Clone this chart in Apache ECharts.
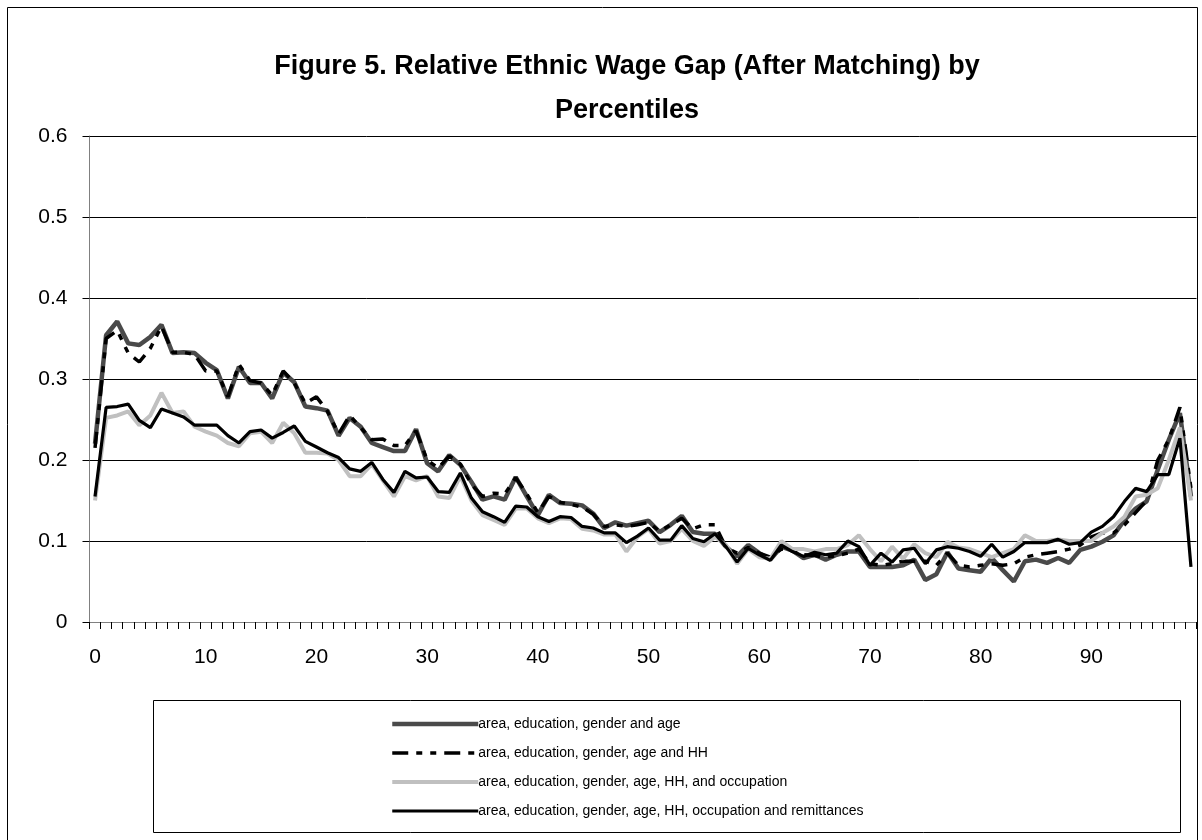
<!DOCTYPE html>
<html>
<head>
<meta charset="utf-8">
<script src="https://cdn.jsdelivr.net/npm/echarts@6/dist/echarts.min.js"></script>
<style>
  html, body { margin: 0; padding: 0; background: #fff; }
  #chart { width: 1202px; height: 840px; }
</style>
</head>
<body>
<div id="chart"></div>
<script>
// Percentile categories 0..99
const categories = Array.from({length: 100}, (_, i) => String(i));

const seriesNames = [
  'area, education, gender and age',
  'area, education, gender, age and HH',
  'area, education, gender, age, HH, and occupation',
  'area, education, gender, age, HH, occupation and remittances'
];

const yTicks = [0, 0.1, 0.2, 0.3, 0.4, 0.5, 0.6];

const s1 = [0.22,0.354,0.371,0.344,0.342,0.352,0.367,0.332,0.333,0.332,
  0.32,0.311,0.276,0.315,0.295,0.295,0.276,0.308,0.296,0.266,
  0.264,0.261,0.23,0.252,0.241,0.221,0.216,0.211,0.211,0.238,
  0.196,0.186,0.206,0.194,0.173,0.151,0.155,0.151,0.179,0.155,
  0.132,0.157,0.147,0.146,0.144,0.134,0.116,0.123,0.119,0.122,
  0.125,0.111,0.12,0.131,0.111,0.109,0.109,0.093,0.081,0.095,
  0.085,0.077,0.093,0.088,0.079,0.083,0.077,0.083,0.087,0.087,
  0.068,0.068,0.068,0.07,0.077,0.052,0.059,0.086,0.066,0.064,
  0.062,0.079,0.064,0.05,0.075,0.077,0.073,0.079,0.073,0.089,
  0.093,0.099,0.107,0.126,0.14,0.149,0.188,0.225,0.258,0.155];

const s2 = [0.215,0.35,0.36,0.332,0.321,0.338,0.365,0.333,0.333,0.33,
  0.31,0.31,0.278,0.318,0.298,0.295,0.28,0.31,0.295,0.27,
  0.278,0.26,0.232,0.255,0.24,0.225,0.226,0.218,0.218,0.236,
  0.2,0.19,0.205,0.195,0.17,0.155,0.159,0.158,0.178,0.158,
  0.135,0.155,0.148,0.145,0.142,0.133,0.118,0.12,0.118,0.12,
  0.123,0.112,0.12,0.128,0.115,0.12,0.12,0.092,0.085,0.092,
  0.085,0.08,0.09,0.088,0.083,0.082,0.08,0.082,0.085,0.09,
  0.072,0.07,0.072,0.075,0.075,0.075,0.07,0.085,0.07,0.068,
  0.07,0.072,0.07,0.072,0.08,0.083,0.085,0.087,0.09,0.095,
  0.105,0.11,0.11,0.12,0.135,0.15,0.2,0.225,0.265,0.165];

const s3 = [0.15,0.252,0.255,0.26,0.243,0.255,0.283,0.258,0.26,0.241,
  0.235,0.23,0.221,0.217,0.233,0.235,0.221,0.246,0.233,0.209,
  0.209,0.208,0.2,0.18,0.18,0.195,0.175,0.155,0.18,0.175,
  0.18,0.155,0.153,0.18,0.15,0.132,0.126,0.12,0.14,0.14,
  0.128,0.122,0.128,0.127,0.115,0.113,0.108,0.108,0.087,0.105,
  0.115,0.097,0.1,0.115,0.1,0.094,0.105,0.095,0.072,0.09,
  0.08,0.078,0.1,0.09,0.09,0.087,0.09,0.09,0.095,0.107,
  0.09,0.075,0.093,0.078,0.096,0.085,0.08,0.099,0.092,0.09,
  0.085,0.08,0.085,0.09,0.107,0.1,0.1,0.102,0.1,0.1,
  0.1,0.11,0.118,0.13,0.155,0.157,0.165,0.2,0.24,0.15];

const s4 = [0.155,0.265,0.266,0.269,0.249,0.24,0.263,0.258,0.253,0.243,
  0.243,0.243,0.23,0.221,0.235,0.237,0.227,0.234,0.242,0.223,
  0.216,0.209,0.203,0.189,0.186,0.197,0.176,0.16,0.186,0.178,
  0.179,0.161,0.16,0.184,0.153,0.136,0.13,0.123,0.143,0.142,
  0.13,0.124,0.13,0.129,0.118,0.116,0.11,0.11,0.098,0.106,
  0.116,0.101,0.101,0.119,0.103,0.099,0.109,0.093,0.074,0.091,
  0.083,0.076,0.095,0.087,0.081,0.086,0.083,0.085,0.1,0.093,
  0.07,0.085,0.074,0.089,0.091,0.072,0.089,0.093,0.091,0.087,
  0.081,0.096,0.08,0.087,0.098,0.098,0.098,0.102,0.096,0.098,
  0.111,0.118,0.13,0.149,0.165,0.161,0.182,0.182,0.227,0.068];

const chart = echarts.init(document.getElementById('chart'), null, {renderer: 'canvas'});

const FONT = 'Liberation Sans, Arial, sans-serif';

const option = {
  backgroundColor: '#ffffff',
  animation: false,
  title: {
    text: 'Figure 5. Relative Ethnic Wage Gap (After Matching) by\nPercentiles',
    left: 622,
    top: 40,
    textAlign: 'center',
    textStyle: { fontFamily: FONT, fontSize: 27, fontWeight: 'bold', color: '#000', lineHeight: 44 }
  },
  grid: { left: 89.5, right: 5.5, top: 136, bottom: 218, containLabel: false },
  xAxis: {
    type: 'category',
    data: categories,
    boundaryGap: true,
    axisLine: { show: true, lineStyle: { color: '#808080', width: 1 } },
    axisTick: { show: true, interval: 0, length: 7, inside: false, lineStyle: { color: '#000', width: 1 } },
    axisLabel: { interval: 9, color: '#000', fontFamily: FONT, fontSize: 21, margin: 25 },
    splitLine: { show: false }
  },
  yAxis: {
    type: 'value',
    min: 0, max: 0.6, interval: 0.1,
    axisLine: { show: true, lineStyle: { color: '#808080', width: 1 } },
    axisTick: { show: true, length: 7, lineStyle: { color: '#000' } },
    axisLabel: { color: '#000', fontFamily: FONT, fontSize: 21, margin: 22,
      formatter: v => { const t = yTicks.find(x => Math.abs(x - v) < 1e-9); return t === 0 ? '0' : String(t); } },
    splitLine: { show: true, lineStyle: { color: '#000', width: 1 } }
  },
  legend: {
    orient: 'vertical',
    left: 385,
    top: 712,
    itemWidth: 86,
    itemHeight: 14,
    itemGap: 15,
    itemStyle: { color: 'rgba(0,0,0,0)', borderWidth: 0, borderColor: 'rgba(0,0,0,0)' },
    lineStyle: { width: 'inherit' },
    textStyle: { fontFamily: FONT, fontSize: 14, color: '#000', padding: [0, 0, 0, -5] },
    data: seriesNames
  },
  graphic: [
    { type: 'rect', shape: { x: 7.5, y: 7.5, width: 1190, height: 900 }, style: { fill: 'none', stroke: '#000', lineWidth: 1 }, silent: true },
    { type: 'rect', shape: { x: 153.5, y: 700.5, width: 1027, height: 132 }, style: { fill: 'none', stroke: '#000', lineWidth: 1 }, silent: true }
  ],
  series: [
    { name: seriesNames[0], type: 'line', data: s1, symbol: 'none', z: 2,
      lineStyle: { color: '#4a4a4a', width: 4.5 }, itemStyle: { color: '#4a4a4a' } },
    { name: seriesNames[1], type: 'line', data: s2, symbol: 'none', z: 3,
      lineStyle: { color: '#000000', width: 3.5, type: [16, 8, 6, 8, 6, 8] }, itemStyle: { color: '#000' } },
    { name: seriesNames[2], type: 'line', data: s3, symbol: 'none', z: 4,
      lineStyle: { color: '#c0c0c0', width: 4 }, itemStyle: { color: '#c0c0c0' } },
    { name: seriesNames[3], type: 'line', data: s4, symbol: 'none', z: 5,
      lineStyle: { color: '#000000', width: 3.2 }, itemStyle: { color: '#000' } }
  ]
};

chart.setOption(option);
</script>
</body>
</html>
